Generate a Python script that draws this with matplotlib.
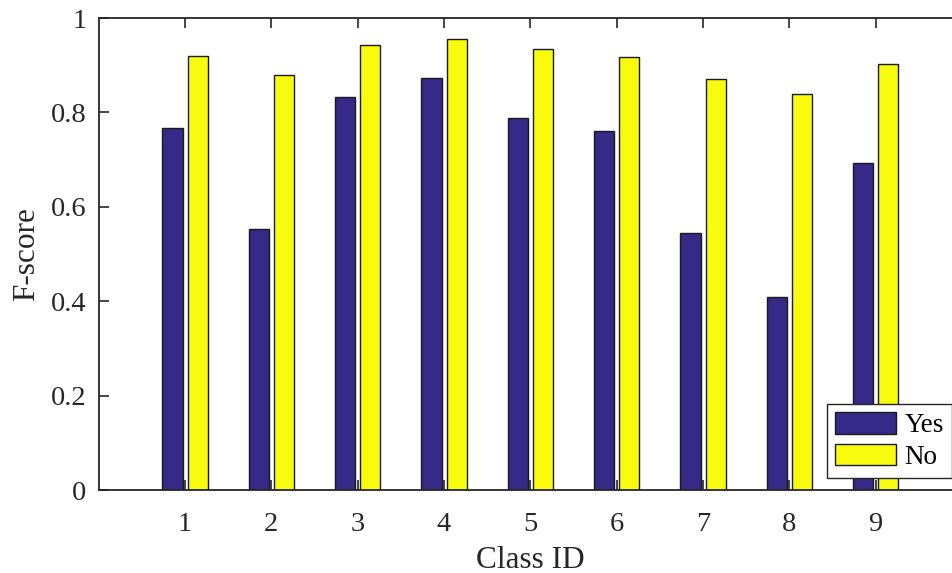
import matplotlib
matplotlib.use("Agg")
import matplotlib.pyplot as plt
import numpy as np

classes = [1, 2, 3, 4, 5, 6, 7, 8, 9]
yes_scores = [0.767, 0.553, 0.833, 0.872, 0.788, 0.760, 0.544, 0.408, 0.693]
no_scores = [0.920, 0.879, 0.943, 0.955, 0.934, 0.918, 0.871, 0.839, 0.903]
series_names = ["Yes", "No"]
y_ticks = [0, 0.2, 0.4, 0.6, 0.8, 1]
y_tick_labels = ["0", "0.2", "0.4", "0.6", "0.8", "1"]

plt.rcParams["font.family"] = ["Liberation Serif", "DejaVu Serif"]
plt.rcParams["font.size"] = 20.5

fig = plt.figure(figsize=(9.53, 5.73), dpi=100)
W, H = 953, 573
left, right, top, bottom = 98.7, 962, 18, 490
ax = fig.add_axes([left / W, 1 - bottom / H, (right - left) / W, (bottom - top) / H])

x = np.array(classes, dtype=float)
offset = 0.145
width = 0.232
ax.bar(x - offset, yes_scores, width, color="#352A87", edgecolor="#1a1a1a",
       linewidth=1.0, label=series_names[0])
ax.bar(x + offset, no_scores, width, color="#F9FB0E", edgecolor="#1a1a1a",
       linewidth=1.0, label=series_names[1])

ax.set_xlim(0, 10)
ax.set_ylim(0, 1)
ax.set_xticks(classes)
ax.set_xticklabels([str(c) for c in classes])
ax.set_yticks(y_ticks)
ax.set_yticklabels(y_tick_labels)
ax.tick_params(direction="in", length=7, width=1.2, top=True, right=True,
               color="#262626", labelcolor="#262626")
ax.tick_params(axis="x", pad=16)
ax.tick_params(axis="y", pad=9)
for s in ax.spines.values():
    s.set_color("#262626")
    s.set_linewidth(1.3)

ax.set_xlabel("Class ID", color="#262626", fontsize=22.5, labelpad=6)
ax.set_ylabel("F-score", color="#262626", fontsize=22.5, labelpad=7)

leg = ax.legend(loc="lower right",
                bbox_to_anchor=((952 - left) / (right - left), (490 - 478) / (bottom - top)),
                fancybox=False, framealpha=1, edgecolor="#262626", fontsize=19.5,
                handlelength=2.25, handleheight=0.85, borderpad=0.3,
                labelspacing=0.2, handletextpad=0.3, borderaxespad=0)
leg.get_frame().set_linewidth(1.0)

fig.savefig("out.png", dpi=100)
